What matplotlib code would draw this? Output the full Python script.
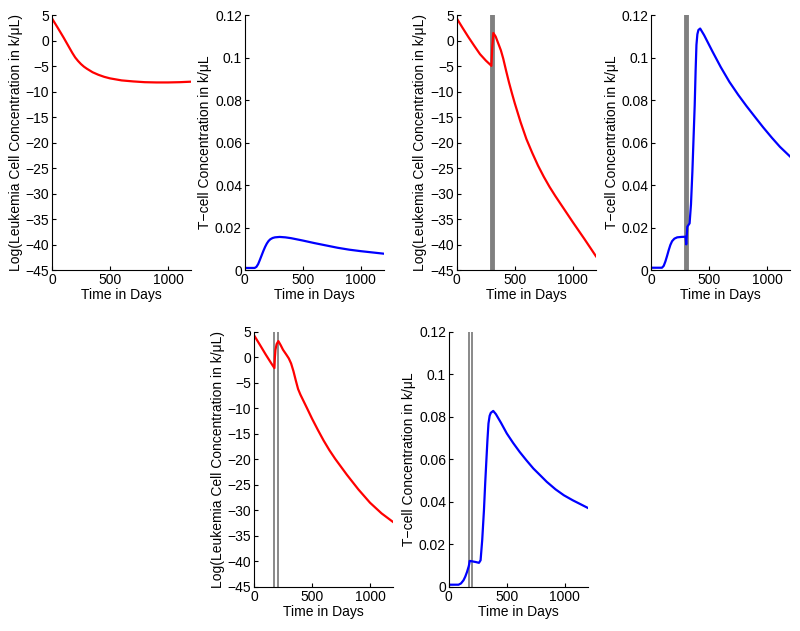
import numpy as np
import matplotlib
matplotlib.use("Agg")
from matplotlib import pyplot as plt

plt.rcParams['font.family'] = ['Liberation Sans', 'DejaVu Sans']
plt.rcParams['font.size'] = 10

# no treatment - leukemia (log) and T cells
t_a = [0, 50, 100, 150, 175, 200, 225, 250, 275, 300, 350, 400, 450, 500, 600, 700, 800,
       900, 1000, 1100, 1200]
leuk_a = [4.35, 2.5, 0.6, -1.4, -2.4, -3.3, -4.0, -4.6, -5.1, -5.5, -6.2, -6.7, -7.1, -7.4,
          -7.8, -8.0, -8.15, -8.2, -8.2, -8.15, -8.05]

t_b = [0, 85, 100, 115, 130, 145, 160, 175, 190, 205, 220, 240, 260, 300, 350, 400, 500, 600,
       700, 800, 900, 1000, 1100, 1200]
tcell_b = [0.001, 0.001, 0.0015, 0.0028, 0.0048, 0.0069, 0.009, 0.0109, 0.0125, 0.0137,
           0.0145, 0.0151, 0.0154, 0.0156, 0.0154, 0.015, 0.0139, 0.0127, 0.0116, 0.0105,
           0.0096, 0.0089, 0.0083, 0.0077]

# one treatment at ~day 300
t_c = [0, 50, 100, 150, 200, 250, 290, 298, 305, 315, 335, 355, 380, 400, 425, 450, 475, 500,
       550, 600, 650, 700, 750, 800, 850, 900, 1000, 1100, 1200]
leuk_c = [4.35, 2.5, 0.7, -1.0, -2.65, -3.9, -4.75, -4.95, -1.5, 1.5, 0.8, -0.4, -1.9, -3.5,
          -5.9, -8.2, -10.3, -12.3, -16.0, -19.3, -22.0, -24.5, -26.7, -28.7, -30.5, -32.2,
          -35.6, -38.9, -42.3]

t_d = [0, 93, 108, 122, 136, 151, 165, 180, 200, 224, 260, 297, 302, 311, 331, 343, 355, 365,
       375, 383, 390, 398, 407, 422, 456, 529, 600, 674, 750, 820, 900, 965, 1040, 1110, 1200]
tcell_d = [0.0011, 0.0011, 0.002, 0.004, 0.0065, 0.0094, 0.0118, 0.0136, 0.0148, 0.0154,
           0.0156, 0.0157, 0.0121, 0.0204, 0.022, 0.031, 0.0463, 0.062, 0.0776, 0.094, 0.106,
           0.111, 0.113, 0.1137, 0.1106, 0.1028, 0.0955, 0.0886, 0.0825, 0.0773, 0.0717,
           0.0672, 0.0623, 0.058, 0.0533]
treat_1 = [302]

# two treatments
t_e = [0, 50, 100, 150, 176, 180, 185, 195, 210, 230, 250, 280, 300, 320, 340, 360, 380, 400,
       430, 460, 500, 550, 600, 650, 700, 800, 900, 1000, 1100, 1200]
leuk_e = [4.35, 2.5, 0.6, -1.2, -2.1, 0.0, 1.5, 2.6, 3.2, 2.4, 1.5, 0.5, -0.2, -1.2, -2.7,
          -4.5, -6.2, -7.3, -8.7, -10.1, -12.0, -14.2, -16.3, -18.2, -19.9, -23.0, -25.9,
          -28.5, -30.6, -32.3]

t_f = [0, 84, 105, 127, 142, 157, 172, 176, 180, 201, 230, 260, 274, 288, 303, 314, 324, 333,
       342, 352, 362, 383, 406, 450, 500, 555, 611, 670, 729, 790, 845, 920, 992, 1070, 1139,
       1200]
tcell_f = [0.001, 0.001, 0.0016, 0.0031, 0.0048, 0.007, 0.0097, 0.0108, 0.0122, 0.012, 0.0117,
           0.0113, 0.0125, 0.022, 0.0361, 0.049, 0.0596, 0.069, 0.0769, 0.0805, 0.0819, 0.0828,
           0.0813, 0.0772, 0.0722, 0.0677, 0.0635, 0.0595, 0.0557, 0.0524, 0.0494, 0.0459,
           0.0431, 0.0407, 0.0388, 0.0371]
treat_2 = [172, 204]

leuk_ticks = list(range(-45, 6, 5))
tcell_ticks = [0, 0.02, 0.04, 0.06, 0.08, 0.1, 0.12]
tcell_labels = ['0', '0.02', '0.04', '0.06', '0.08', '0.1', '0.12']
x_ticks = [0, 500, 1000]

leuk_label = 'Log(Leukemia Cell Concentration in k/\u03bcL)'
tcell_label = 'T\u2212cell Concentration in k/\u03bcL'

fig = plt.figure(figsize=(8, 6.31), dpi=100)
w, h = 0.174, 0.404
positions = [(0.065, 0.572), (0.306, 0.572), (0.571, 0.572), (0.814, 0.572),
             (0.3175, 0.07), (0.561, 0.07)]
panels = [(t_a, leuk_a, 'leuk', []), (t_b, tcell_b, 'tcell', []),
          (t_c, leuk_c, 'leuk', treat_1), (t_d, tcell_d, 'tcell', treat_1),
          (t_e, leuk_e, 'leuk', treat_2), (t_f, tcell_f, 'tcell', treat_2)]

for (x0, y0), (t, y, kind, treat) in zip(positions, panels):
    ax = fig.add_axes([x0, y0, w, h])
    for d in treat:
        lw = 3.5 if len(treat) == 1 else 1.3
        ax.axvline(d, color='0.5', lw=lw, zorder=1)
    if kind == 'leuk':
        ax.plot(t, y, color='red', lw=1.6, zorder=2)
        ax.set_ylim(-45, 5)
        ax.set_yticks(leuk_ticks)
        ax.set_ylabel(leuk_label, labelpad=2)
    else:
        ax.plot(t, y, color='blue', lw=1.6, zorder=2)
        ax.set_ylim(0, 0.12)
        ax.set_yticks(tcell_ticks)
        ax.set_yticklabels(tcell_labels)
        ax.set_ylabel(tcell_label, labelpad=2)
    ax.set_xlim(0, 1200)
    ax.set_xticks(x_ticks)
    ax.set_xlabel('Time in Days', labelpad=1)
    ax.spines['top'].set_visible(False)
    ax.spines['right'].set_visible(False)
    ax.tick_params(direction='in', length=3, pad=2)

fig.savefig('out.png', dpi=100)
